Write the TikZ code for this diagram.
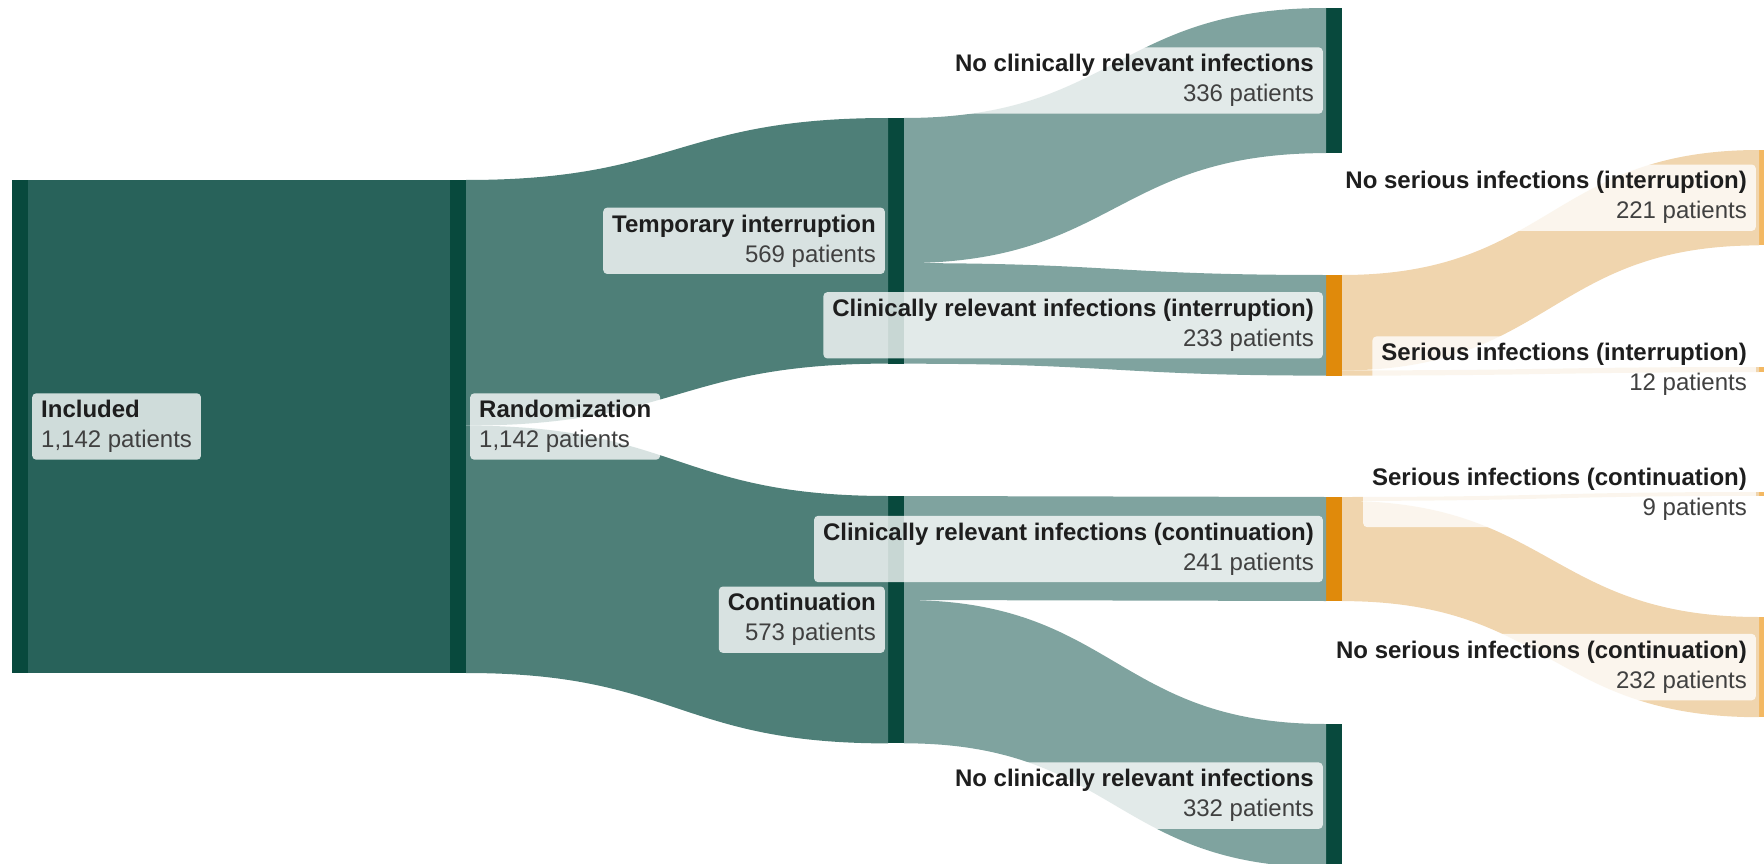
\documentclass[tikz,border=0pt]{standalone}
\usepackage{fontspec}
\setmainfont{Liberation Sans}
\usetikzlibrary{calc}
\definecolor{barDark}{HTML}{08493D}
\definecolor{flowA}{HTML}{28625A}
\definecolor{flowB}{HTML}{4E7F78}
\definecolor{flowC}{HTML}{7FA39F}
\definecolor{barOrange}{HTML}{E08A0B}
\definecolor{flowO}{HTML}{F0D5AE}
\definecolor{barPale}{HTML}{F3B862}
\definecolor{txtA}{HTML}{1E1E1E}
\definecolor{txtB}{HTML}{404040}
% sankey band: #1 source node, #2 offset from source top, #3 target node, #4 offset from target top, #5 width, #6 colour
\newcommand\sflow[6]{%
  \fill[#6] let \p1=($(#1.north east)+(0,#2)$), \p2=($(#3.north west)+(0,#4)$),
     \p3=($(#3.north west)+(0,#4+#5)$), \p4=($(#1.north east)+(0,#2+#5)$),
     \n1={(\x1+\x2)/2} in
  (\p1) .. controls (\n1,\y1) and (\n1,\y2) .. (\p2) -- (\p3)
        .. controls (\n1,\y3) and (\n1,\y4) .. (\p4) -- cycle;}
\begin{document}
\begin{tikzpicture}[x=1pt,y=-1pt,
  bar/.style={draw=none,inner sep=0pt,outer sep=0pt,minimum width=16pt,anchor=north west,rectangle},
  lbl/.style={fill=white,fill opacity=0.78,text opacity=1,rounded corners=4pt,inner xsep=9pt,inner ysep=7pt,
              font=\fontsize{24}{30}\selectfont,text=txtA},
  lblR/.style={lbl,align=right,anchor=east},
  lblL/.style={lbl,align=left,anchor=west}]
\useasboundingbox (0,0) rectangle (1764,864);
% bars
\node[bar,fill=barDark,minimum height=493pt] (inc) at (12,180) {};
\node[bar,fill=barDark,minimum height=493pt] (ran) at (450,180) {};
\node[bar,fill=barDark,minimum height=245.6pt] (ti) at (888,118) {};
\node[bar,fill=barDark,minimum height=247.4pt] (co) at (888,496) {};
\node[bar,fill=barDark,minimum height=145.1pt] (ni) at (1326,8) {};
\node[bar,fill=barOrange,minimum height=100.6pt] (ci) at (1326,275) {};
\node[bar,fill=barOrange,minimum height=104pt] (cc) at (1326,497) {};
\node[bar,fill=barDark,minimum height=143.3pt] (nc) at (1326,724) {};
\node[bar,fill=barPale,minimum height=95.4pt] (nsi) at (1759,150) {};
\node[bar,fill=barPale,minimum height=5.2pt] (si) at (1759,367) {};
\node[bar,fill=barPale,minimum height=3.9pt] (sc) at (1759,492) {};
\node[bar,fill=barPale,minimum height=100.2pt] (nsc) at (1759,617) {};
% flows
\fill[flowA] (inc.north east) rectangle (ran.south west);
\sflow{ran}{0}{ti}{0}{245.6}{flowB}
\sflow{ran}{245.6}{co}{0}{247.4}{flowB}
\sflow{ti}{0}{ni}{0}{145.1}{flowC}
\sflow{ti}{145.1}{ci}{0}{100.6}{flowC}
\sflow{co}{0}{cc}{0}{104}{flowC}
\sflow{co}{104}{nc}{0}{143.3}{flowC}
\sflow{ci}{0}{nsi}{0}{95.4}{flowO}
\sflow{ci}{95.4}{si}{0}{5.2}{flowO}
\sflow{cc}{0}{sc}{0}{3.9}{flowO}
\sflow{cc}{3.9}{nsc}{0}{100.2}{flowO}
% labels
\node[lblL] (linc) at ($(inc.east)+(4,0)$) {\textbf{Included}\\\textcolor{txtB}{1,142 patients}};
\node[lblL] (lran) at ($(ran.east)+(4,0)$) {\textbf{Randomization}\\\textcolor{txtB}{1,142 patients}};
\node[lblR] (lti) at ($(ti.west)+(-3,0)$) {\textbf{Temporary interruption}\\\textcolor{txtB}{569 patients}};
\node[lblR] (lco) at ($(co.west)+(-3,0)$) {\textbf{Continuation}\\\textcolor{txtB}{573 patients}};
\node[lblR] (lni) at ($(ni.west)+(-3,0)$) {\textbf{No clinically relevant infections}\\\textcolor{txtB}{336 patients}};
\node[lblR] (lci) at ($(ci.west)+(-3,0)$) {\textbf{Clinically relevant infections (interruption)}\\\textcolor{txtB}{233 patients}};
\node[lblR] (lcc) at ($(cc.west)+(-3,0)$) {\textbf{Clinically relevant infections (continuation)}\\\textcolor{txtB}{241 patients}};
\node[lblR] (lnc) at ($(nc.west)+(-3,0)$) {\textbf{No clinically relevant infections}\\\textcolor{txtB}{332 patients}};
\node[lblR] (lnsi) at ($(nsi.west)+(-3,0)$) {\textbf{No serious infections (interruption)}\\\textcolor{txtB}{221 patients}};
\node[lblR] (lsi) at ($(si.west)+(-3,0)$) {\textbf{Serious infections (interruption)}\\\textcolor{txtB}{12 patients}};
\node[lblR] (lsc) at ($(sc.west)+(-3,0)$) {\textbf{Serious infections (continuation)}\\\textcolor{txtB}{9 patients}};
\node[lblR] (lnsc) at ($(nsc.west)+(-3,0)$) {\textbf{No serious infections (continuation)}\\\textcolor{txtB}{232 patients}};
\end{tikzpicture}
\end{document}
